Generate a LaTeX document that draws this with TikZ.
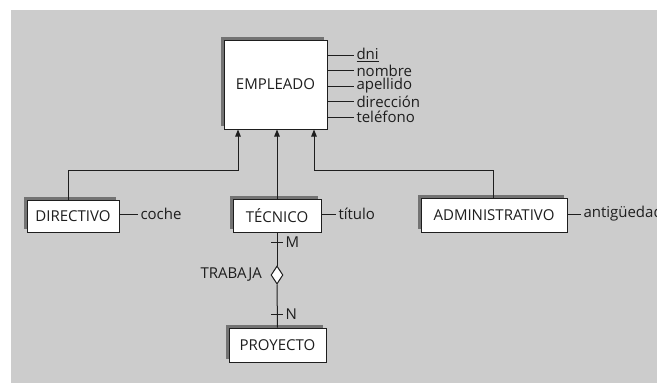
\documentclass[tikz,border=0pt]{standalone}
\usepackage{fontspec}
\setmainfont{Open Sans}
\usetikzlibrary{shapes.geometric,shadows,arrows.meta}

\definecolor{bggray}{RGB}{204,204,204}
\definecolor{shadowgray}{RGB}{115,115,115}
\definecolor{inkgray}{RGB}{30,30,30}

\tikzset{every picture/.style={line width=1pt}}
\tikzset{
  entity/.style={draw=inkgray, fill=white, inner sep=0pt,
    general shadow={fill=shadowgray, shadow xshift=-3.5pt, shadow yshift=3.5pt}},
  attr/.style={anchor=west, inner sep=2pt},
  rel/.style={diamond, draw=inkgray, fill=white, inner sep=0pt, minimum width=12pt, minimum height=18pt},
  isa/.style={-{Triangle[length=7pt,width=5.5pt]}},
}

\begin{document}
\begin{tikzpicture}[x=1pt,y=1pt,yscale=-1,xscale=1,font=\fontsize{15}{15.5}\selectfont,text=inkgray,draw=inkgray]
\useasboundingbox (0,0) rectangle (657,383);
% background
\fill[white] (0,0) rectangle (657,383);
\fill[bggray] (11,10) rectangle (657,383);

% Entities
\node[entity, minimum width=103pt, minimum height=89pt] (emp) at (275.5,84.5) {EMPLEADO};
\node[entity, minimum width=92pt, minimum height=32pt] (dir) at (73,216) {DIRECTIVO};
\node[entity, minimum width=88pt, minimum height=33pt] (tec) at (277,215.5) {TÉCNICO};
\node[entity, minimum width=146pt, minimum height=34pt] (adm) at (494,215) {ADMINISTRATIVO};
\node[entity, minimum width=97pt, minimum height=34pt] (pro) at (277.5,345) {PROYECTO};

% Attributes of EMPLEADO
\node[attr] (dni) at (354,55) {\underline{dni}};
\node[attr] (nom) at (354,70.5) {nombre};
\node[attr] (ape) at (354,86) {apellido};
\node[attr] (direc) at (354,101.5) {dirección};
\node[attr] (tel) at (354,117) {teléfono};
\foreach \a in {dni,nom,ape,direc,tel}
  \draw (\a -| emp.east) -- (\a.west);

% Attributes of the subtypes
\node[attr] (coche) at (138,214) {coche};
\draw (coche -| dir.east) -- (coche.west);
\node[attr] (tit) at (336,214) {título};
\draw (tit -| tec.east) -- (tit.west);
\node[attr] (ant) at (581,214) {antigüedad};
\draw (ant -| adm.east) -- (ant.west);

% Generalisation arrows
\coordinate (d1) at (68,170);
\coordinate (e1) at (238,170);
\coordinate (d3) at (493,170);
\coordinate (e3) at (314,170);
\draw[isa] (d1 |- dir.north) -- (d1) -- (e1) -- (e1 |- emp.south);
\draw[isa] (tec.north) -- (tec.north |- emp.south);
\draw[isa] (d3 |- adm.north) -- (d3) -- (e3) -- (e3 |- emp.south);

% Relationship TRABAJA
\node[rel] (tra) at (277,275) {};
\node[anchor=east, inner sep=2pt] (trabaja) at ([xshift=-6pt]tra.west) {TRABAJA};
\draw (tec.south) -- (tra.north);
\draw (tra.south) -- (pro.north);

% Cardinalities
\coordinate (m) at (277,242);
\coordinate (n) at (277,314);
\draw ([xshift=-6pt]m) -- ([xshift=6pt]m);
\draw ([xshift=-6pt]n) -- ([xshift=6pt]n);
\node[attr] (card m) at ([xshift=6pt]m) {M};
\node[attr] (card n) at ([xshift=6pt]n) {N};

\end{tikzpicture}
\end{document}
